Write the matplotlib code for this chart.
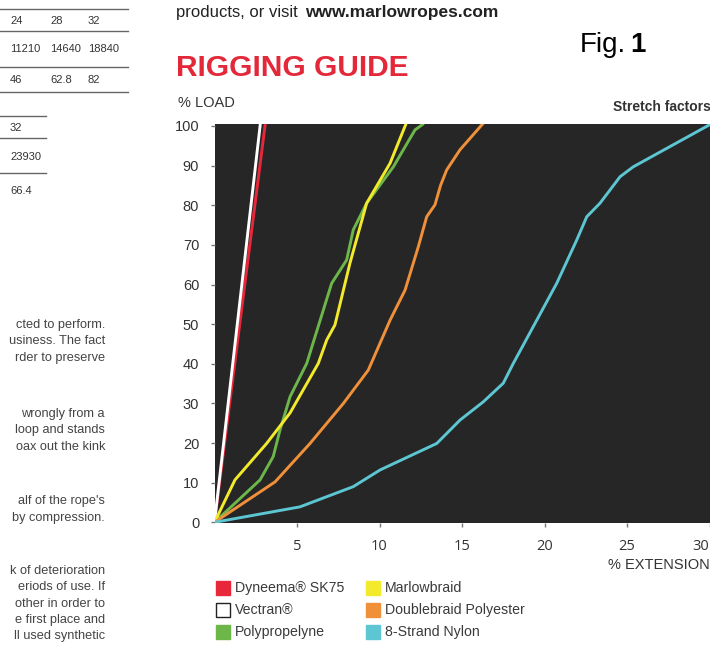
import matplotlib

matplotlib.use("Agg")
import matplotlib.pyplot as plt
from matplotlib.patches import Rectangle

plt.rcParams["font.family"] = ["Liberation Sans", "DejaVu Sans"]

W, H = 710, 646

# stretch curves: % extension vs % load
dyneema_x = [0.0, 3.09]
dyneema_y = [0.0, 101.0]
vectran_x = [0.0, 2.79]
vectran_y = [0.0, 101.0]
marlowbraid_x = [0.0, 1.24, 3.16, 4.58, 6.29, 6.8, 7.3, 8.21, 9.22, 10.64, 11.65]
marlowbraid_y = [0.0, 10.7, 19.9, 27.6, 40.1, 46.0, 49.8, 65.4, 80.5, 90.6, 101.0]
polyprop_x = [0.0, 2.76, 3.56, 3.97, 4.58, 5.59, 7.1, 8.01, 8.41, 9.22, 10.84, 12.15, 12.65]
polyprop_y = [0.0, 10.7, 16.6, 23.3, 31.7, 40.1, 60.3, 66.2, 73.8, 80.5, 89.7, 99.0, 100.5]
doublebraid_x = [0.0, 3.67, 5.79, 7.81, 9.32, 10.64, 11.55, 12.35, 12.86, 13.36, 13.7, 14.07, 14.88, 16.29]
doublebraid_y = [0.0, 10.2, 19.9, 30.0, 38.4, 51.0, 58.6, 69.5, 77.1, 80.1, 85.0, 88.9, 94.0, 100.7]
nylon_x = [0.0, 5.18, 8.41, 10.03, 13.47, 14.88, 16.29, 17.5, 18.11, 19.53, 20.74, 21.95,
           22.56, 23.36, 24.58, 25.38, 30.0]
nylon_y = [0.0, 3.9, 9.0, 13.2, 19.9, 25.8, 30.4, 35.1, 40.1, 51.0, 60.3, 71.2,
           77.1, 80.5, 87.2, 89.7, 100.3]

x_ticks = [5, 10, 15, 20, 25, 30]
y_ticks = [0, 10, 20, 30, 40, 50, 60, 70, 80, 90, 100]

legend_labels = ["Dyneema® SK75", "Vectran®", "Polypropelyne",
                 "Marlowbraid", "Doublebraid Polyester", "8-Strand Nylon"]

# left-hand column of the page (cut off in the scan)
table_rows = [["24", "28", "32"], ["11210", "14640", "18840"], ["46", "62.8", "82"]]
table_col2 = ["32", "23930", "66.4"]
body_lines = [
    ("cted to perform.", 325), ("usiness. The fact", 341), ("rder to preserve", 358),
    ("wrongly from a", 414), ("loop and stands", 430), ("oax out the kink", 447),
    ("alf of the rope's", 501), ("by compression.", 518),
    ("k of deterioration", 571), ("eriods of use. If", 587), ("other in order to", 604),
    ("e first place and", 620), ("ll used synthetic", 636),
]


def px(x, y):
    return x / W, 1 - y / H


fig = plt.figure(figsize=(W / 100, H / 100), dpi=100)
fig.patch.set_facecolor("white")

ax_left, ax_top, ax_right, ax_bottom = 214.5, 124.0, 710.0, 523.3
ax = fig.add_axes([ax_left / W, 1 - ax_bottom / H, (ax_right - ax_left) / W, (ax_bottom - ax_top) / H])
ax.set_facecolor("#262626")
for s in ax.spines.values():
    s.set_visible(False)

series = [
    (dyneema_x, dyneema_y, "#e8273b"),
    (vectran_x, vectran_y, "#ffffff"),
    (polyprop_x, polyprop_y, "#6cb64a"),
    (marlowbraid_x, marlowbraid_y, "#f3ea2b"),
    (doublebraid_x, doublebraid_y, "#f0913a"),
    (nylon_x, nylon_y, "#5cc6d2"),
]
for xs, ys, col in series:
    ax.plot(xs, ys, color=col, linewidth=2.1, solid_capstyle="round", solid_joinstyle="round")

ax.set_xlim(0, 30.03)
ax.set_ylim(-0.25, 100.5)
ax.set_xticks(x_ticks)
ax.set_yticks(y_ticks)
ax.tick_params(axis="y", direction="out", length=3, width=1, color="#777777", pad=8,
               labelsize=10.5, labelcolor="#333333")
ax.tick_params(axis="x", direction="out", length=3, width=1, color="#777777", pad=8,
               labelsize=10.5, labelcolor="#333333")
for lab in ax.get_xticklabels():
    lab.set_family(["Open Sans", "DejaVu Sans"])
# the last label sits against the page edge
ax.get_xticklabels()[-1].set_horizontalalignment("right")

# headings
fig.text(*px(176, 13), "products, or visit ", fontsize=12, color="#222222", va="center")
fig.text(*px(305, 13), "www.marlowropes.com", fontsize=12.5, fontweight="bold", color="#222222", va="center")
fig.text(*px(580, 45), "Fig.", fontsize=20, color="black", va="center")
fig.text(*px(630, 45), "1", fontsize=20, fontweight="bold", color="black", va="center")
fig.text(*px(176, 68), "RIGGING GUIDE", fontsize=21.5, fontweight="bold", color="#e3283a", va="center")
fig.text(*px(178, 103), "% LOAD", fontsize=10.5, color="#333333", va="center")
fig.text(*px(711, 107), "Stretch factors", fontsize=10, fontweight="bold", color="#333333",
         va="center", ha="right")
fig.text(*px(710, 565), "% EXTENSION", fontsize=10.5, color="#333333", va="center", ha="right")

# legend, laid out like the printed key
sq = 14
for i, (label, (_, _, col)) in enumerate(zip(legend_labels, series)):
    col_i, row_i = divmod(i, 3)
    x0 = 216 + col_i * 150
    yc = 588 + row_i * 22
    edge = "#222222" if col == "#ffffff" else col
    fig.patches.append(Rectangle(px(x0, yc + sq / 2), sq / W, sq / H, transform=fig.transFigure,
                                 facecolor=col, edgecolor=edge, linewidth=1.0))
    fig.text(*px(x0 + sq + 5, yc), label, fontsize=10.2, color="#3a3a3a", va="center")

# left column: table fragment
line_col = "#666666"
for y in [9, 31, 67, 92]:
    fig.add_artist(plt.Line2D([0, 128 / W], [1 - y / H] * 2, color=line_col, linewidth=1.0))
for y in [116, 138, 173]:
    fig.add_artist(plt.Line2D([0, 46 / W], [1 - y / H] * 2, color=line_col, linewidth=1.0))
for row, y in zip(table_rows, [21, 49, 80]):
    for txt, x in zip(row, [10, 50, 88]):
        fig.text(*px(x, y), txt, fontsize=8, color="#333333", va="center")
for txt, y in zip(table_col2, [128, 157, 191]):
    fig.text(*px(10, y), txt, fontsize=8, color="#333333", va="center")

for txt, y in body_lines:
    fig.text(*px(105, y), txt, fontsize=9.2, color="#444444", va="center", ha="right")

fig.savefig("out.png", dpi=100)
